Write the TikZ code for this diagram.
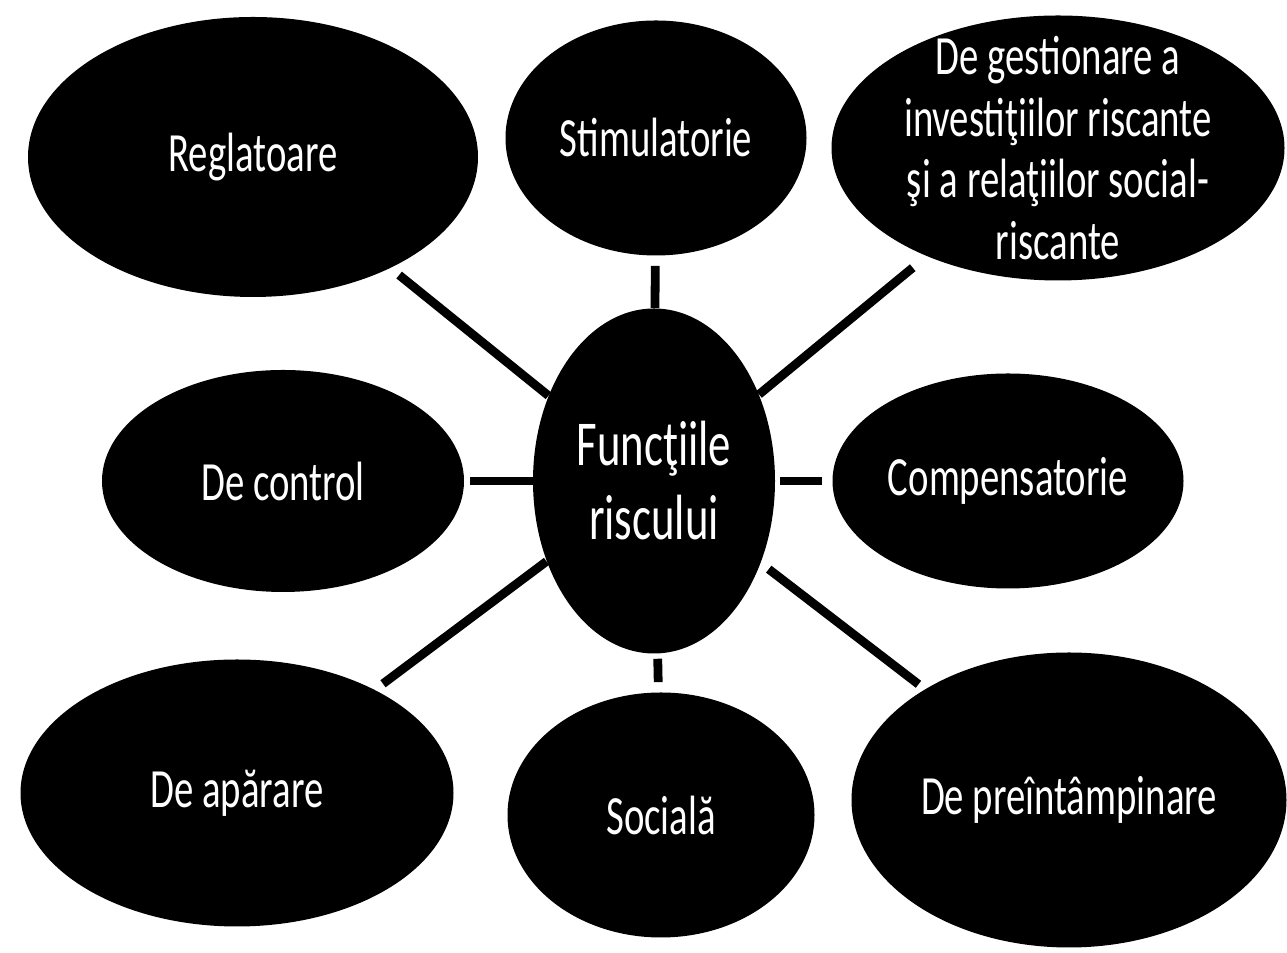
\documentclass[tikz,border=0pt]{standalone}
\usepackage{fontspec}
\setmainfont{Carlito}[FakeStretch=0.7]
\usepackage{tikz}
\usetikzlibrary{shapes.geometric}
\tikzset{
    bubble/.style={ellipse, fill=black, text=white, inner sep=-1.5cm, align=center, font=\fontsize{31.5}{35}\selectfont},
    link/.style={line width=5pt, shorten <=0.2cm}
}

\begin{document}
\begin{tikzpicture}
    \useasboundingbox(0, 0) rectangle (25.74, 19.06);
    \node[bubble, minimum width=4.84cm, minimum height=6.9cm, font=\fontsize{36.4}{42.1}\selectfont](func)at(13.08, 9.44){Funcţiile\\riscului};
    \node[bubble, minimum width=9cm, minimum height=5.6cm](regl)at(5.06, 15.92){Reglatoare};
    \node[bubble, minimum width=6.02cm, minimum height=4.7cm](stim)at(13.12, 16.3){Stimulatorie};
    \node[bubble, minimum width=9.06cm, minimum height=5.3cm](gest)at(21.16, 16.1){De gestionare a\\investiţiilor riscante\\şi a relaţiilor social-\\riscante};
    \node[bubble, minimum width=7.24cm, minimum height=4.44cm](contr)at(5.66, 9.44){De control};
    \node[bubble, minimum width=7.02cm, minimum height=4.3cm](comp)at(20.16, 9.44){Compensatorie};
    \node[bubble, minimum width=8.66cm, minimum height=5.34cm](apar)at(4.74, 3.2){De apărare};
    \node[bubble, minimum width=6.14cm, minimum height=4.9cm](soc)at(13.22, 2.76){Socială};
    \node[bubble, minimum width=8.7cm, minimum height=5.9cm](prev)at(21.38, 3.06){De preîntâmpinare};
    \draw[link, shorten <=0.22cm](regl)--(func);
    \draw[link](stim)--(func);
    \draw[link, shorten <=0.36cm](gest)--(func);
    \draw[link, shorten <=0.12cm](contr)--(func);
    \draw[link, shorten >=0.1cm](comp)--(func);
    \draw[link](apar)--(func);
    \draw[link, shorten >=0.1cm](soc)--(func);
    \draw[link, shorten <=0.16cm, shorten >=0.2cm](prev)--(func);
\end{tikzpicture}
\end{document}
